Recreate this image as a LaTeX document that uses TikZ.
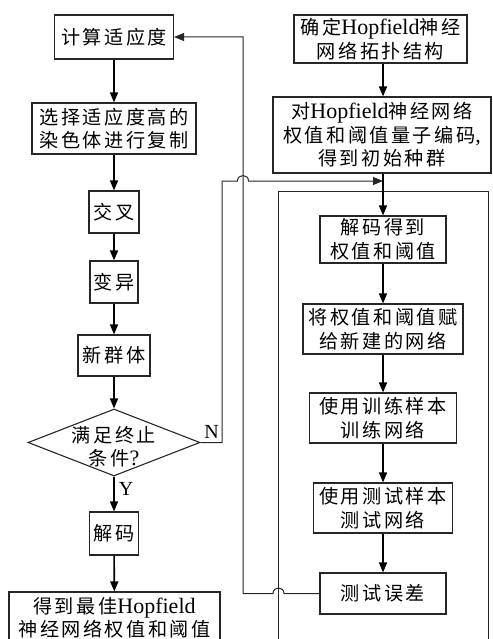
\documentclass[tikz,border=0pt]{standalone}
\usepackage{fontspec}
\setmainfont{Liberation Serif}
\newfontfamily\cjk{Noto Sans CJK SC}[LetterSpace=13,Scale=0.87]
\usetikzlibrary{arrows.meta,shapes.geometric,calc}
\newcommand\C[1]{{\cjk #1}}
\begin{document}
\begin{tikzpicture}[x=1pt,y=-1pt,
  box/.style={draw=black!85, line width=1.1pt, inner sep=0pt, align=center,
    font=\fontsize{22}{23.5}\selectfont},
  arr/.style={line width=1.6pt, -{Triangle[length=10pt,width=8pt]}},
  thinarr/.style={line width=1pt, draw=black!85, -{Triangle[length=10pt,width=8pt]}},
  frame/.style={line width=1pt, draw=black!85},
  lab/.style={inner sep=0pt, font=\fontsize{20}{20}\selectfont}]
\useasboundingbox (0,0) rectangle (492,639);
\clip (0,0) rectangle (492,639);
% left column
\node[box, minimum width=119pt, minimum height=44pt] (n1) at (114,37) {\C{计算适应度}};
\node[box, minimum width=164pt, minimum height=51pt] (n2) at (114,128.5) {\C{选择适应度高的}\\\C{染色体进行复制}};
\node[box, minimum width=50pt, minimum height=42pt] (n3) at (114,212) {\C{交叉}};
\node[box, minimum width=48pt, minimum height=42pt] (n4) at (114,282) {\C{变异}};
\node[box, minimum width=72pt, minimum height=41pt] (n5) at (114,355.5) {\C{新群体}};
\node[draw=black!85, line width=1.1pt, diamond, minimum width=172pt, minimum height=67pt, inner sep=0pt] (d) at (114,442.5) {};
\node[align=center, inner sep=0pt, font=\fontsize{22}{23}\selectfont] (dt) at (114,447) {\C{满足终止}\\\C{条件}?};
\node[box, minimum width=49pt, minimum height=43pt] (n6) at (114,533.5) {\C{解码}};
\node[box, minimum width=211pt, minimum height=52pt] (n7) at (114.5,618) {\C{得到最佳}Hopfield\\\C{神经网络权值和阈值}};
% right column
\node[box, minimum width=173pt, minimum height=48pt] (r1) at (380.5,39) {\C{确定}Hopfield\C{神经}\\\C{网络拓扑结构}};
\node[box, minimum width=218pt, minimum height=76pt] (r2) at (382,135) {\C{对}Hopfield\C{神经网络}\\\C{权值和阈值量子编码},\\\C{得到初始种群}};
\node[box, minimum width=126pt, minimum height=47pt] (r3) at (383,239.5) {\C{解码得到}\\\C{权值和阈值}};
\node[box, minimum width=160pt, minimum height=50pt] (r4) at (383,329) {\C{将权值和阈值赋}\\\C{给新建的网络}};
\node[box, minimum width=147pt, minimum height=50pt] (r5) at (383,418) {\C{使用训练样本}\\\C{训练网络}};
\node[box, minimum width=139pt, minimum height=50pt] (r6) at (383,508) {\C{使用测试样本}\\\C{测试网络}};
\node[box, minimum width=126pt, minimum height=41pt] (r7) at (383,593.5) {\C{测试误差}};
% labels
\node[lab] (lN) at (211.5,431.5) {N};
\node[lab] (lY) at (126,489) {Y};
% frame
\coordinate (bTL) at (278.5,191.5);
\coordinate (bTR) at (488,191.5);
\coordinate (bBL) at (278.5,660);
\coordinate (bBR) at (488,660);
\draw[frame] (bBL) -- (bTL) -- (bTR) -- (bBR);
% left arrows
\draw[arr] (n1) -- (n2);
\draw[arr] (n2) -- (n3);
\draw[arr] (n3) -- (n4);
\draw[arr] (n4) -- (n5);
\draw[arr] (n5) -- (d);
\draw[arr] (d.south) -- (n6.north);
\draw[arr] (n6) -- (n7);
% right arrows
\draw[arr] (r1.south -| r3.north) -- (r2.north -| r3.north);
\draw[arr] (r2.south -| r3.north) -- (r3.north);
\draw[arr] (r3) -- (r4);
\draw[arr] (r4) -- (r5);
\draw[arr] (r5) -- (r6);
\draw[arr] (r6) -- (r7);
% N branch
\coordinate (fbx) at (243,0);
\coordinate (nx) at (222,181);
\draw[thinarr] (d.east) -- (d.east -| nx) -- (nx)
  -- ($(nx -| fbx)+(-5.5,0)$) .. controls +(0,-7.3) and +(0,-7.3) .. ($(nx -| fbx)+(5.5,0)$)
  -- (nx -| r3.north);
% feedback
\draw[thinarr] (r7.west) -- ($(r7.west -| bTL)+(5.5,0)$) .. controls +(0,-7.3) and +(0,-7.3) .. ($(r7.west -| bTL)+(-5.5,0)$)
  -- (r7.west -| fbx) |- (n1.east);
\end{tikzpicture}
\end{document}
